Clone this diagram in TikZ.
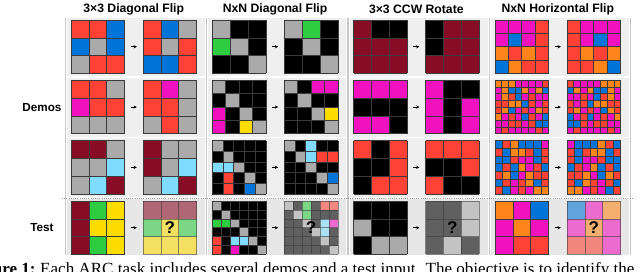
\documentclass[tikz,border=0pt]{standalone}
\usepackage{fontspec}
\setmainfont{Liberation Serif}
\newfontfamily\titlefont{Liberation Sans}
\usetikzlibrary{arrows.meta}
\definecolor{arcK}{HTML}{000000}
\definecolor{arcB}{HTML}{0074D9}
\definecolor{arcR}{HTML}{FF4136}
\definecolor{arcN}{HTML}{2ECC40}
\definecolor{arcY}{HTML}{FFDC00}
\definecolor{arcA}{HTML}{AAAAAA}
\definecolor{arcM}{HTML}{F012BE}
\definecolor{arcO}{HTML}{FF851B}
\definecolor{arcC}{HTML}{7FDBFF}
\definecolor{arcW}{HTML}{870C25}
\definecolor{panelbg}{HTML}{EFEFEF}
\definecolor{testbg}{HTML}{E7E7E7}
\definecolor{sepline}{HTML}{C8C8C8}
\definecolor{gridcol}{HTML}{3A3A3A}
\tikzset{
  gridline/.style={draw=gridcol, line width=0.6pt},
  flowarrow/.style={-{Stealth[length=3.2pt,width=3.2pt]}, line width=0.9pt, black},
  titletext/.style={font=\titlefont\bfseries\fontsize{12.2}{14}\selectfont, inner sep=0pt},
  rowlabel/.style={font=\titlefont\bfseries\fontsize{11.7}{14}\selectfont, inner sep=0pt},
  qmark/.style={font=\titlefont\bfseries\fontsize{17}{17}\selectfont, inner sep=0pt},
  captext/.style={font=\fontsize{17.05}{18}\selectfont, inner sep=0pt}
}
% #1 x, #2 y, #3 n, #4 opacity, #5 rows
\newcommand\arcgrid[5]{%
  \pgfmathsetmacro\arccs{53.5/#3}%
  \foreach \arcrow [count=\arci] in {#5} {%
    \foreach \arcc [count=\arcj] in \arcrow {%
      \fill[arc\arcc, fill opacity=#4] ({#1+(\arcj-1)*\arccs},{#2+(\arci-1)*\arccs}) rectangle ++(\arccs,\arccs);
    }%
  }%
  \foreach \arck in {0,...,#3} {%
    \draw[gridline, draw opacity=#4] ({#1+\arck*\arccs},#2) -- ++(0,53.5);
    \draw[gridline, draw opacity=#4] (#1,{#2+\arck*\arccs}) -- ++(53.5,0);
  }%
}
\begin{document}
\begin{tikzpicture}[x=1pt,y=-1pt]
\useasboundingbox (0,0) rectangle (640,272);
\begin{scope}
\clip (0,0) rectangle (640,272);
% panels
\foreach \gx in {71,212.3,353.6,495} {
  \fill[panelbg] (\gx-4,18) rectangle (\gx+134,197.3);
  \fill[testbg] (\gx-4,198.7) rectangle (\gx+134,255.5);
  \draw[white, line width=1.4pt] (\gx-4,77.2) -- (\gx+134,77.2);
  \draw[white, line width=1.4pt] (\gx-4,137.5) -- (\gx+134,137.5);
  \draw[sepline, line width=1.2pt] (\gx+135.6,18) -- (\gx+135.6,255.5);
}
\draw[sepline, line width=1.2pt] (65.4,18) -- (65.4,255.5);
\draw[gray!80, line width=0.8pt, dash pattern=on 1pt off 1.2pt] (62,198) -- (632,198);

% titles
\node[titletext] (t1) at (133.75,9) {3×3 Diagonal Flip};
\node[titletext] (t2) at (275.05,9) {NxN Diagonal Flip};
\node[titletext] (t3) at (416.35,9) {3×3 CCW Rotate};
\node[titletext] (t4) at (557.75,9) {NxN Horizontal Flip};
\node[rowlabel] (ldemos) at (42,108) {Demos};
\node[rowlabel] (ltest) at (42,227.5) {Test};

% arrows
\foreach \gx in {71,212.3,353.6,495} {
  \foreach \ry in {20,80.3,140.6,201} {
    \coordinate (a1) at (\gx+59.5,\ry+26.75);
    \coordinate (a2) at (\gx+65.8,\ry+26.75);
    \draw[flowarrow] (a1) -- (a2);
  }
}

% ---------- group 1: 3x3 diagonal flip
\arcgrid{71}{20}{3}{1}{{R,R,B},{B,A,B},{A,R,R}}
\arcgrid{143}{20}{3}{1}{{R,B,A},{R,A,R},{B,B,R}}
\arcgrid{71}{80.3}{3}{1}{{R,R,A},{M,R,R},{A,A,A}}
\arcgrid{143}{80.3}{3}{1}{{R,M,A},{R,R,A},{A,R,A}}
\arcgrid{71}{140.6}{3}{1}{{W,W,A},{A,A,C},{A,C,W}}
\arcgrid{143}{140.6}{3}{1}{{W,A,A},{W,A,C},{A,C,W}}
\arcgrid{71}{201}{3}{1}{{W,N,Y},{W,Y,Y},{W,N,Y}}
\arcgrid{143}{201}{3}{0.58}{{W,W,W},{N,Y,N},{Y,Y,Y}}
\node[qmark] (q1) at (169.75,228) {?};

% ---------- group 2: NxN diagonal flip
\arcgrid{212.3}{20}{3}{1}{{A,K,K},{N,A,K},{K,K,A}}
\arcgrid{284.3}{20}{3}{1}{{A,N,K},{K,A,K},{K,K,A}}
\arcgrid{212.3}{80.3}{4}{1}{{A,K,K,K},{K,A,K,K},{M,K,A,K},{M,K,Y,A}}
\arcgrid{284.3}{80.3}{4}{1}{{A,K,M,M},{K,A,K,K},{K,K,A,Y},{K,K,K,A}}
\arcgrid{212.3}{140.6}{5}{1}{{A,K,K,K,K},{K,A,K,K,K},{C,C,A,K,K},{K,R,K,A,K},{K,R,K,B,A}}
\arcgrid{284.3}{140.6}{5}{1}{{A,K,C,K,K},{K,A,C,R,R},{K,K,A,K,K},{K,K,K,A,B},{K,K,K,K,A}}
\arcgrid{212.3}{201}{6}{1}{{A,K,K,K,K,K},{K,A,K,K,K,K},{N,N,A,K,K,K},{K,K,K,A,K,K},{R,K,C,C,A,K},{R,K,M,K,K,A}}
\arcgrid{284.3}{201}{6}{0.58}{{A,K,N,K,R,R},{K,A,N,K,K,K},{K,K,A,K,C,M},{K,K,K,A,C,K},{K,K,K,K,A,K},{K,K,K,K,K,A}}
\node[qmark] (q2) at (311.05,228) {?};

% ---------- group 3: 3x3 CCW rotate
\arcgrid{353.6}{20}{3}{1}{{W,K,K},{W,W,W},{W,W,W}}
\arcgrid{425.6}{20}{3}{1}{{K,W,W},{K,W,W},{W,W,W}}
\arcgrid{353.6}{80.3}{3}{1}{{M,M,M},{K,K,K},{M,M,K}}
\arcgrid{425.6}{80.3}{3}{1}{{M,K,K},{M,K,M},{M,K,M}}
\arcgrid{353.6}{140.6}{3}{1}{{R,K,R},{K,K,R},{K,R,R}}
\arcgrid{425.6}{140.6}{3}{1}{{R,R,R},{K,K,R},{R,K,K}}
\arcgrid{353.6}{201}{3}{1}{{K,K,K},{A,K,K},{K,A,A}}
\arcgrid{425.6}{201}{3}{0.58}{{K,K,A},{K,K,A},{K,A,K}}
\node[qmark] (q3) at (452.35,228) {?};

% ---------- group 4: NxN horizontal flip
\arcgrid{495}{20}{4}{1}{{M,M,M,R},{M,B,M,R},{O,R,O,R},{B,O,R,R}}
\arcgrid{567}{20}{4}{1}{{R,M,M,M},{R,M,B,M},{R,O,R,O},{R,R,O,B}}
\arcgrid{495}{80.3}{8}{1}{{O,O,O,M,M,M,M,R},{M,O,B,B,O,M,O,B},{M,O,R,B,M,R,M,M},{R,R,O,O,B,R,M,R},{R,O,B,M,R,M,O,R},{O,M,R,M,B,R,M,B},{M,M,R,R,M,R,B,B},{M,R,M,M,M,M,R,M}}
\arcgrid{567}{80.3}{8}{1}{{R,M,M,M,M,O,O,O},{B,O,M,O,B,B,O,M},{M,M,R,M,B,R,O,M},{R,M,R,B,O,O,R,R},{R,O,M,R,M,B,O,R},{B,M,R,B,M,R,M,O},{B,B,R,M,R,R,M,M},{M,R,M,M,M,M,R,M}}
\arcgrid{495}{140.6}{7}{1}{{B,R,O,B,B,B,M},{R,B,O,O,R,B,R},{B,B,R,M,M,B,R},{B,R,B,O,M,R,B},{R,O,B,M,O,R,R},{B,R,M,R,O,B,R},{R,B,M,R,M,O,O}}
\arcgrid{567}{140.6}{7}{1}{{M,B,B,B,O,R,B},{R,B,R,O,O,B,R},{R,B,M,M,R,B,B},{B,R,M,O,B,R,B},{R,R,O,M,B,O,R},{R,B,O,R,M,R,B},{O,O,M,R,M,B,R}}
\arcgrid{495}{201}{3}{1}{{O,M,B},{M,O,M},{M,R,R}}
\arcgrid{567}{201}{3}{0.58}{{B,M,O},{M,O,M},{R,R,M}}
\node[qmark] (q4) at (593.75,228) {?};

% caption
\node[captext, anchor=base west] (cap) at (40,274.5) {Each ARC task includes several demos and a test input. The objective is to identify the};
\node[captext, anchor=base east] (fig) at ([xshift=-4.2pt]cap.base west) {\textbf{Figure 1:}};
\end{scope}
\end{tikzpicture}
\end{document}
